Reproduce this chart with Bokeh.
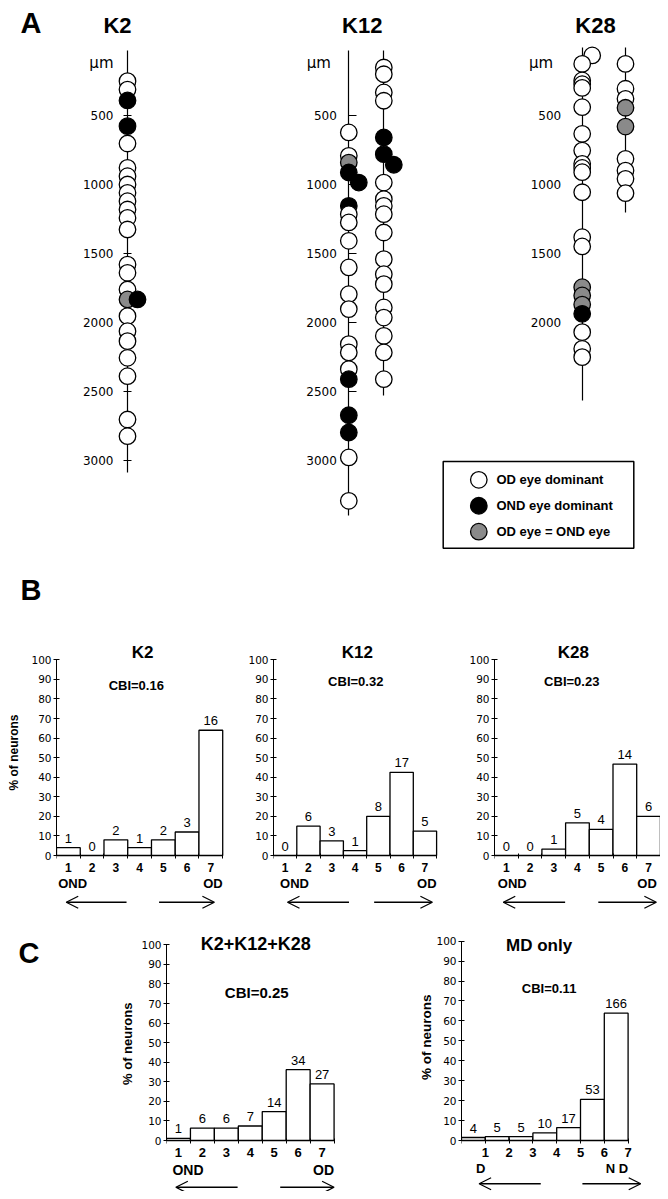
import math
from bokeh.plotting import figure
from bokeh.models import ColumnDataSource, Range1d, LinearAxis, FixedTicker, Arrow, OpenHead
from bokeh.layouts import column, row
from bokeh.core.properties import value
from bokeh.embed import file_html
from bokeh.resources import INLINE

FONT = "Liberation Sans"
NUMFONT = "DejaVu Sans"

# ---------------- Panel A: recorded cells along electrode tracks (depth in um) ----------------
# kind: "o" = OD eye dominant, "b" = OND eye dominant, "g" = OD eye = OND eye
# side: 1 = cell drawn displaced to the right of the track
k2_depth = [251, 312, 391, 577, 703, 879, 940, 1000, 1060, 1121, 1181, 1242, 1326,
            1580, 1640, 1761, 1833, 1833, 1954, 2063, 2135, 2256, 2389, 2703, 2824]
k2_kind = ["o", "o", "b", "b", "o", "o", "o", "o", "o", "o", "o", "o", "o",
           "o", "o", "o", "g", "b", "o", "o", "o", "o", "o", "o", "o"]
k2_side = [0] * 17 + [1] + [0] * 7

k12a_depth = [623, 792, 841, 913, 986, 1155, 1215, 1275, 1408, 1601, 1795, 1903,
              2157, 2217, 2338, 2411, 2672, 2797, 2978, 3292]
k12a_kind = ["o", "o", "g", "b", "b", "b", "o", "o", "o", "o", "o", "o",
             "o", "o", "o", "b", "b", "b", "o", "o"]
k12a_side = [0, 0, 0, 0, 1] + [0] * 15

k12b_depth = [152, 201, 333, 393, 659, 780, 857, 986, 1106, 1155, 1215, 1348,
              1541, 1650, 1722, 1891, 1964, 2097, 2217, 2411]
k12b_kind = ["o", "o", "o", "o", "b", "b", "b"] + ["o"] * 13
k12b_side = [0, 0, 0, 0, 0, 0, 1] + [0] * 13

k28a_depth = [65, 126, 246, 273, 300, 440, 633, 754, 850, 880, 911, 1056, 1382, 1449,
              1744, 1804, 1870, 1937, 2070, 2191, 2251]
k28a_kind = ["o"] * 14 + ["g", "g", "g", "b", "o", "o", "o"]
k28a_side = [1] + [0] * 20

k28b_depth = [126, 306, 379, 444, 580, 814, 899, 959, 1063]
k28b_kind = ["o", "o", "o", "g", "g", "o", "o", "o", "o"]
k28b_side = [0] * 9

track_titles = ["K2", "K12", "K28"]
track_top = [29, 29, 29, 7, 7]
track_bottom = [3087, 3399, 2529, 2565, 1203]
depth_ticks = [500, 1000, 1500, 2000, 2500, 3000]
k28_ticks = [500, 1000, 1500, 2000]

legend_kinds = ["o", "b", "g"]
legend_labels = ["OD eye dominant", "OND eye dominant", "OD eye = OND eye"]

# ---------------- Panels B and C: ocular dominance histograms ----------------
od_classes = [1, 2, 3, 4, 5, 6, 7]
k2_pct = [4, 0, 8, 4, 8, 12, 64]
k2_n = [1, 0, 2, 1, 2, 3, 16]
k12_pct = [0, 15, 7.5, 2.5, 20, 42.5, 12.5]
k12_n = [0, 6, 3, 1, 8, 17, 5]
k28_pct = [0, 0, 3.3, 16.7, 13.3, 46.7, 20]
k28_n = [0, 0, 1, 5, 4, 14, 6]
all_pct = [1.1, 6.3, 6.3, 7.4, 14.8, 36.2, 28.9]
all_n = [1, 6, 6, 7, 14, 34, 27]
md_pct = [1.5, 1.9, 1.9, 3.8, 6.5, 20.6, 63.9]
md_n = [4, 5, 5, 10, 17, 53, 166]
pct_ticks = [0, 10, 20, 30, 40, 50, 60, 70, 80, 90, 100]
y_title = "% of neurons"

KIND_FILL = {"o": "white", "b": "black", "g": "#8a8a8a"}

# ================= Panel A figure =================
A_W, A_H = 652, 600
UNIT = 10.0          # px per x unit
PX_PER_UM = 0.138
DEPTH0 = 38          # px from top of figure for 0 um
SIDE_SHIFT = 1.0
track_x = [11.9, 34.03, 37.53, 57.37, 61.7]

pA = figure(width=A_W, height=A_H,
            x_range=Range1d(0, A_W / UNIT),
            y_range=Range1d((A_H - DEPTH0) / PX_PER_UM, -DEPTH0 / PX_PER_UM),
            x_axis_location=None, y_axis_location=None,
            min_border=0, outline_line_color=None,
            output_backend="svg", toolbar_location=None)
pA.grid.visible = False

track_ticks = [depth_ticks, depth_ticks, [], k28_ticks, []]
tick_in = [4, 8, 0, 0, 0]
tick_out = [4, 0, 0, 0, 0]
standoff = [10, 12, 0, 21, 0]
for i, tx in enumerate(track_x):
    ax = LinearAxis(fixed_location=tx, bounds=(track_top[i], track_bottom[i]),
                    ticker=FixedTicker(ticks=track_ticks[i]),
                    axis_line_color="black", axis_line_width=1.2,
                    major_tick_line_color="black", major_tick_line_width=1.2,
                    major_tick_in=tick_in[i], major_tick_out=tick_out[i],
                    minor_tick_line_color=None,
                    major_label_standoff=standoff[i],
                    major_label_text_font=NUMFONT, major_label_text_font_size="12px",
                    major_label_text_color="black")
    ax.level = "underlay"
    pA.add_layout(ax, "left")

depths = [k2_depth, k12a_depth, k12b_depth, k28a_depth, k28b_depth]
kinds = [k2_kind, k12a_kind, k12b_kind, k28a_kind, k28b_kind]
sides = [k2_side, k12a_side, k12b_side, k28a_side, k28b_side]
xs, ys, fills = [], [], []
for tx, dd, kk, ss in zip(track_x, depths, kinds, sides):
    for d, k, s in zip(dd, kk, ss):
        xs.append(tx + s * SIDE_SHIFT)
        ys.append(d)
        fills.append(KIND_FILL[k])
cells = ColumnDataSource(dict(x=xs, y=ys, fill=fills))
pA.scatter(x="x", y="y", source=cells, marker="circle", size=16.5,
           fill_color="fill", line_color="black", line_width=1.3)

# titles
pA.text(x=[10.9, 35.37, 58.7], y=[-152] * 3, text=track_titles,
        text_font=value(FONT), text_font_style="bold", text_font_size="22px",
        text_align="center", text_baseline="middle", text_color="black")
# um labels
pA.text(x=[track_x[0] - 1.4, track_x[1] - 1.8, track_x[3] - 2.9], y=[120] * 3,
        text=["\u00b5m"] * 3, text_font=value(NUMFONT), text_font_size="15px",
        text_align="right", text_baseline="middle", text_color="black")
# panel letters A and B
pA.text(x=[1.2, 1.2], y=[-170, 3935], text=["A", "B"], text_font=value(FONT),
        text_font_style="bold", text_font_size="29px", text_align="left",
        text_baseline="middle", text_color="black")

# legend box
pA.rect(x=[53.0], y=[3321], width=[19.06], height=[628], fill_color="white",
        line_color="black", line_width=1.5)
leg_y = [3140 + 188 * i for i in range(len(legend_labels))]
pA.scatter(x=[47.03] * 3, y=leg_y, marker="circle", size=16.5,
           fill_color=[KIND_FILL[k] for k in legend_kinds], line_color="black", line_width=1.3)
pA.text(x=[48.8] * 3, y=leg_y, text=legend_labels, text_font=value(FONT),
        text_font_style="bold", text_font_size="13px", text_align="left",
        text_baseline="middle", text_color="black")


# ================= helpers =================
def text_strip(width, height, items):
    """Narrow figure (pixel units) holding margin texts: (text, x, y, size, angle)."""
    p = figure(width=width, height=height, x_range=Range1d(0, width), y_range=Range1d(0, height),
               x_axis_location=None, y_axis_location=None, min_border=0,
               outline_line_color=None, output_backend="svg", toolbar_location=None)
    p.grid.visible = False
    for txt, x, y, size, angle, align in items:
        p.text(x=[x], y=[y], text=[txt], angle=angle, text_font=value(FONT),
               text_font_style="bold", text_font_size=size, text_align=align,
               text_baseline="middle", text_color="black")
    return p


def make_hist(pct, counts, title, cbi, width, height, left, unit, ppp, zero_px,
              title_xy, cbi_xy, title_size="17px", cbi_size="13px", edge_labels=False,
              end_labels=("OND", "OD"), end_x=(0.15, 7.0), end_align=("left", "right"),
              end_y=-14.2, arrows=(2.95, 0.4, 4.35, 6.75), arrow_y=-23.9,
              tick_size="12px", end_size="13px"):
    p = figure(width=width, height=height,
               x_range=Range1d(0, (width - left) / unit),
               y_range=Range1d(-(height - zero_px) / ppp, zero_px / ppp),
               min_border_left=left, min_border_right=0, min_border_top=0, min_border_bottom=0,
               outline_line_color=None, output_backend="svg", toolbar_location=None)
    p.grid.visible = False

    centers = [c - 0.5 for c in od_classes]
    p.vbar(x=centers, top=pct, bottom=0, width=1, fill_color="white",
           line_color="black", line_width=1.3)
    p.text(x=centers, y=pct, text=[str(c) for c in counts], text_font=value(FONT),
           text_font_size="13px", text_align="center", text_baseline="bottom",
           y_offset=-5, text_color="black")
    p.text(x=[title_xy[0]], y=[title_xy[1]], text=[title], text_font=value(FONT),
           text_font_style="bold", text_font_size=title_size, text_align="center",
           text_baseline="middle", text_color="black")
    p.text(x=[cbi_xy[0]], y=[cbi_xy[1]], text=[cbi], text_font=value(FONT),
           text_font_style="bold", text_font_size=cbi_size, text_align="center",
           text_baseline="middle", text_color="black")
    for lab, x, al in zip(end_labels, end_x, end_align):
        p.text(x=[x], y=[end_y], text=[lab], text_font=value(FONT), text_font_style="bold",
               text_font_size=end_size, text_align=al, text_baseline="middle", text_color="black")

    # x axis at y = 0
    xa = p.xaxis[0]
    xa.fixed_location = 0
    xa.bounds = (0, 7)
    if edge_labels:
        xa.ticker = FixedTicker(ticks=[float(c) for c in od_classes], minor_ticks=[0.0])
        xa.major_label_overrides = {float(c): str(c) for c in od_classes}
        xa.major_tick_in = 2
        xa.major_tick_out = 3
    else:
        xa.ticker = FixedTicker(ticks=centers, minor_ticks=[float(i) for i in range(8)])
        xa.major_label_overrides = {c: str(k) for c, k in zip(centers, od_classes)}
        xa.major_tick_line_color = None
        xa.major_tick_in = 0
        xa.major_tick_out = 0
    xa.minor_tick_in = 2
    xa.minor_tick_out = 3
    xa.minor_tick_line_color = "black"
    xa.axis_line_color = "black"
    xa.axis_line_width = 1.2
    xa.major_label_standoff = 4
    xa.major_label_text_font = FONT
    xa.major_label_text_font_style = "bold"
    xa.major_label_text_font_size = tick_size
    xa.major_label_text_color = "black"

    ya = p.yaxis[0]
    ya.ticker = FixedTicker(ticks=pct_ticks)
    ya.bounds = (0, 100)
    ya.axis_line_color = "black"
    ya.axis_line_width = 1.0
    ya.major_tick_in = 3
    ya.major_tick_out = 3
    ya.minor_tick_line_color = None
    ya.major_label_standoff = 2
    ya.major_label_text_font = NUMFONT
    ya.major_label_text_font_size = "10.5px"
    ya.major_label_text_color = "black"

    l0, l1, r0, r1 = arrows
    for xs_, xe_ in ((l0, l1), (r0, r1)):
        p.add_layout(Arrow(x_start=xs_, y_start=arrow_y, x_end=xe_, y_end=arrow_y,
                           line_width=1.3, line_color="black",
                           end=OpenHead(size=12, line_width=1.3, line_color="black")))
    return p


ROT = math.pi / 2

B_H, B_ZERO = 307, 247
bl = text_strip(20, B_H, [(y_title, 5, 163, "12px", ROT, "center")])
b1 = make_hist(k2_pct, k2_n, "K2", "CBI=0.16", 199, B_H, 24, 24.3, 1.957, B_ZERO,
               (3.63, 103.9), (3.36, 86.9),
               end_x=(0.07, 7.0), arrows=(2.95, 0.41, 4.32, 6.65))
b2 = make_hist(k12_pct, k12_n, "K12", "CBI=0.32", 216, B_H, 46, 23.3, 1.957, B_ZERO,
               (3.6, 103.9), (3.53, 88.9), end_x=(0.28, 7.0),
               arrows=(3.24, 0.6, 4.32, 6.82))
b3 = make_hist(k28_pct, k28_n, "K28", "CBI=0.23", 217, B_H, 51, 23.7, 1.957, B_ZERO,
               (3.33, 103.9), (3.26, 88.9), end_x=(0.14, 6.85),
               arrows=(2.98, 0.37, 4.38, 6.83))

C_H, C_ZERO = 276, 225
cl = text_strip(128, C_H, [("C", 10, 238.5, "29px", 0, "left"),
                           (y_title, 118.7, 147.7, "13px", ROT, "center")])
c1 = make_hist(all_pct, all_n, "K2+K12+K28", "CBI=0.25", 204, C_H, 30, 23.94, 1.957, C_ZERO,
               (3.73, 100.5), (3.77, 75.8), title_size="18px", cbi_size="15px",
               end_x=(0.25, 7.0), end_y=-15.3, arrows=(2.97, 0.39, 4.75, 7.0), arrow_y=-23.9,
               tick_size="13px", end_size="14px")
ml = text_strip(93, C_H, [(y_title, 86, 154.3, "13.5px", ROT, "center")])
c2 = make_hist(md_pct, md_n, "MD only", "CBI=0.11", 227, C_H, 28, 23.8, 1.993, C_ZERO,
               (3.26, 97.8), (3.68, 76.1), title_size="17px", cbi_size="13px",
               edge_labels=True, end_labels=("D", "N D"), end_x=(0.81, 7.0),
               end_align=("center", "right"), end_y=-14.2,
               arrows=(3.33, 0.74, 5.08, 7.53), arrow_y=-21.7, tick_size="13px")

layout = column(pA, row(bl, b1, b2, b3, spacing=0), row(cl, c1, ml, c2, spacing=0),
                spacing=0, margin=(8, 8, 8, 8))
open("out.html", "w").write(file_html(layout, INLINE))
